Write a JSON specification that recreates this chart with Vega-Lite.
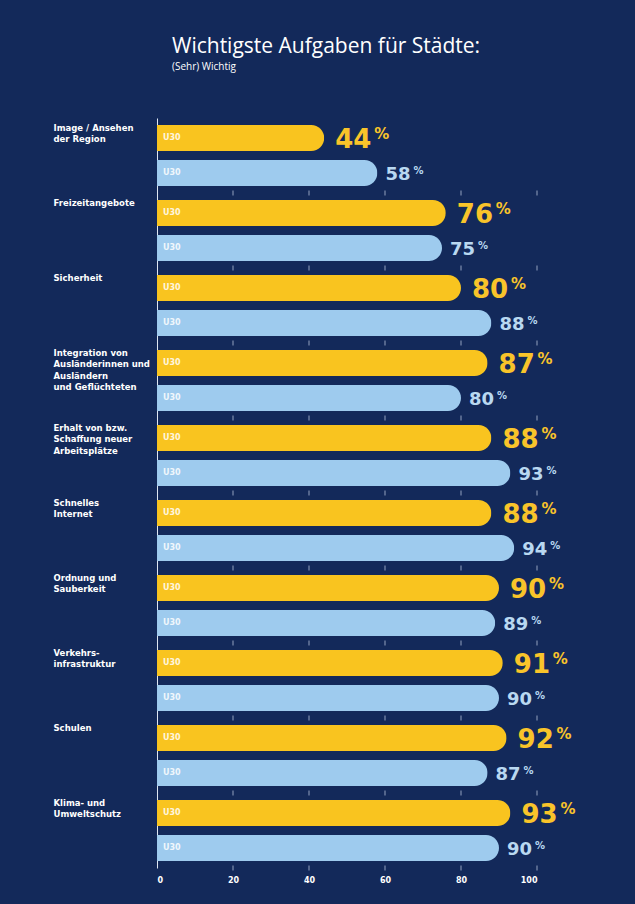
{
  "$schema": "https://vega.github.io/schema/vega-lite/v6.json",
  "autosize": {"type": "none"},
  "width": 380,
  "height": 750,
  "padding": {"left": 157, "top": 118, "right": 98, "bottom": 36},
  "background": "#13295a",
  "title": {
    "text": "Wichtigste Aufgaben für Städte:",
    "subtitle": "(Sehr) Wichtig",
    "anchor": "start",
    "frame": "group",
    "dx": 15,
    "offset": 46,
    "font": "Open Sans",
    "fontSize": 21,
    "fontWeight": "normal",
    "color": "#ffffff",
    "subtitleFont": "Open Sans",
    "subtitleFontSize": 10,
    "subtitleColor": "#ffffff",
    "subtitlePadding": 5
  },
  "config": {"view": {"stroke": null}},
  "datasets": {
    "werte": [
      {"cat": "Image / Ansehen|der Region", "reihe": "A", "label": "U30", "value": 44},
      {"cat": "Image / Ansehen|der Region", "reihe": "B", "label": "U30", "value": 58},
      {"cat": "Freizeitangebote", "reihe": "A", "label": "U30", "value": 76},
      {"cat": "Freizeitangebote", "reihe": "B", "label": "U30", "value": 75},
      {"cat": "Sicherheit", "reihe": "A", "label": "U30", "value": 80},
      {"cat": "Sicherheit", "reihe": "B", "label": "U30", "value": 88},
      {"cat": "Integration von|Ausländerinnen und|Ausländern|und Geflüchteten", "reihe": "A", "label": "U30", "value": 87},
      {"cat": "Integration von|Ausländerinnen und|Ausländern|und Geflüchteten", "reihe": "B", "label": "U30", "value": 80},
      {"cat": "Erhalt von bzw.|Schaffung neuer|Arbeitsplätze", "reihe": "A", "label": "U30", "value": 88},
      {"cat": "Erhalt von bzw.|Schaffung neuer|Arbeitsplätze", "reihe": "B", "label": "U30", "value": 93},
      {"cat": "Schnelles|Internet", "reihe": "A", "label": "U30", "value": 88},
      {"cat": "Schnelles|Internet", "reihe": "B", "label": "U30", "value": 94},
      {"cat": "Ordnung und|Sauberkeit", "reihe": "A", "label": "U30", "value": 90},
      {"cat": "Ordnung und|Sauberkeit", "reihe": "B", "label": "U30", "value": 89},
      {"cat": "Verkehrs-|infrastruktur", "reihe": "A", "label": "U30", "value": 91},
      {"cat": "Verkehrs-|infrastruktur", "reihe": "B", "label": "U30", "value": 90},
      {"cat": "Schulen", "reihe": "A", "label": "U30", "value": 92},
      {"cat": "Schulen", "reihe": "B", "label": "U30", "value": 87},
      {"cat": "Klima- und|Umweltschutz", "reihe": "A", "label": "U30", "value": 93},
      {"cat": "Klima- und|Umweltschutz", "reihe": "B", "label": "U30", "value": 90}
    ],
    "striche": [
      {"cat": "Image / Ansehen|der Region", "x": 20}, {"cat": "Image / Ansehen|der Region", "x": 40}, {"cat": "Image / Ansehen|der Region", "x": 60}, {"cat": "Image / Ansehen|der Region", "x": 80}, {"cat": "Image / Ansehen|der Region", "x": 100},
      {"cat": "Freizeitangebote", "x": 20}, {"cat": "Freizeitangebote", "x": 40}, {"cat": "Freizeitangebote", "x": 60}, {"cat": "Freizeitangebote", "x": 80}, {"cat": "Freizeitangebote", "x": 100},
      {"cat": "Sicherheit", "x": 20}, {"cat": "Sicherheit", "x": 40}, {"cat": "Sicherheit", "x": 60}, {"cat": "Sicherheit", "x": 80}, {"cat": "Sicherheit", "x": 100},
      {"cat": "Integration von|Ausländerinnen und|Ausländern|und Geflüchteten", "x": 20}, {"cat": "Integration von|Ausländerinnen und|Ausländern|und Geflüchteten", "x": 40}, {"cat": "Integration von|Ausländerinnen und|Ausländern|und Geflüchteten", "x": 60}, {"cat": "Integration von|Ausländerinnen und|Ausländern|und Geflüchteten", "x": 80}, {"cat": "Integration von|Ausländerinnen und|Ausländern|und Geflüchteten", "x": 100},
      {"cat": "Erhalt von bzw.|Schaffung neuer|Arbeitsplätze", "x": 20}, {"cat": "Erhalt von bzw.|Schaffung neuer|Arbeitsplätze", "x": 40}, {"cat": "Erhalt von bzw.|Schaffung neuer|Arbeitsplätze", "x": 60}, {"cat": "Erhalt von bzw.|Schaffung neuer|Arbeitsplätze", "x": 80}, {"cat": "Erhalt von bzw.|Schaffung neuer|Arbeitsplätze", "x": 100},
      {"cat": "Schnelles|Internet", "x": 20}, {"cat": "Schnelles|Internet", "x": 40}, {"cat": "Schnelles|Internet", "x": 60}, {"cat": "Schnelles|Internet", "x": 80}, {"cat": "Schnelles|Internet", "x": 100},
      {"cat": "Ordnung und|Sauberkeit", "x": 20}, {"cat": "Ordnung und|Sauberkeit", "x": 40}, {"cat": "Ordnung und|Sauberkeit", "x": 60}, {"cat": "Ordnung und|Sauberkeit", "x": 80}, {"cat": "Ordnung und|Sauberkeit", "x": 100},
      {"cat": "Verkehrs-|infrastruktur", "x": 20}, {"cat": "Verkehrs-|infrastruktur", "x": 40}, {"cat": "Verkehrs-|infrastruktur", "x": 60}, {"cat": "Verkehrs-|infrastruktur", "x": 80}, {"cat": "Verkehrs-|infrastruktur", "x": 100},
      {"cat": "Schulen", "x": 20}, {"cat": "Schulen", "x": 40}, {"cat": "Schulen", "x": 60}, {"cat": "Schulen", "x": 80}, {"cat": "Schulen", "x": 100},
      {"cat": "Klima- und|Umweltschutz", "x": 20}, {"cat": "Klima- und|Umweltschutz", "x": 40}, {"cat": "Klima- und|Umweltschutz", "x": 60}, {"cat": "Klima- und|Umweltschutz", "x": 80}, {"cat": "Klima- und|Umweltschutz", "x": 100}
    ]
  },
  "layer": [
    {
      "data": {"name": "striche"},
      "mark": {"type": "tick", "orient": "vertical", "size": 5, "thickness": 1, "color": "#c9d4e8", "opacity": 0.7, "yOffset": 37.5},
      "encoding": {
        "x": {"field": "x", "type": "quantitative", "scale": {"domain": [0, 100], "nice": false},
          "axis": {"values": [0, 20, 40, 60, 80, 100], "title": null, "domain": false, "ticks": false, "grid": false, "labelColor": "#ffffff", "labelFont": "DejaVu Sans", "labelFontWeight": "bold", "labelFontSize": 8, "labelPadding": 8}},
        "y": {"field": "cat", "type": "nominal",
          "scale": {"domain": ["Image / Ansehen|der Region", "Freizeitangebote", "Sicherheit", "Integration von|Ausländerinnen und|Ausländern|und Geflüchteten", "Erhalt von bzw.|Schaffung neuer|Arbeitsplätze", "Schnelles|Internet", "Ordnung und|Sauberkeit", "Verkehrs-|infrastruktur", "Schulen", "Klima- und|Umweltschutz"], "paddingInner": 0, "paddingOuter": 0},
          "axis": {"title": null, "ticks": false, "domainColor": "#dfe6f2", "domainWidth": 1, "labelExpr": "split(datum.label, '|')", "labelAlign": "left", "labelBaseline": "top", "labelOffset": -32, "labelPadding": 104, "labelColor": "#ffffff", "labelFont": "DejaVu Sans", "labelFontWeight": "bold", "labelFontSize": 8.5, "labelLineHeight": 11.5, "labelLimit": 0}}
      }
    },
    {
      "data": {"name": "werte"},
      "mark": {"type": "bar", "cornerRadiusEnd": 13},
      "encoding": {
        "x": {"field": "value", "type": "quantitative"},
        "y": {"field": "cat", "type": "nominal"},
        "yOffset": {"field": "reihe", "type": "nominal", "scale": {"paddingInner": 0.26, "paddingOuter": 0.2}},
        "color": {"field": "reihe", "type": "nominal", "scale": {"domain": ["A", "B"], "range": ["#f9c41f", "#9ecbee"]}, "legend": null}
      }
    },
    {
      "data": {"name": "werte"},
      "mark": {"type": "text", "align": "left", "baseline": "middle", "dx": 6, "font": "DejaVu Sans", "fontWeight": "bold", "fontSize": 8, "color": "#ffffff", "opacity": 0.85},
      "encoding": {
        "x": {"datum": 0, "type": "quantitative"},
        "y": {"field": "cat", "type": "nominal"},
        "yOffset": {"field": "reihe", "type": "nominal"},
        "text": {"field": "label"}
      }
    },
    {
      "data": {"name": "werte"},
      "transform": [{"filter": "datum.reihe === 'A'"}],
      "mark": {"type": "text", "align": "left", "baseline": "alphabetic", "dx": 11, "dy": 10, "font": "DejaVu Sans", "fontWeight": "bold", "fontSize": 26, "color": "#f9c42a"},
      "encoding": {
        "x": {"field": "value", "type": "quantitative"},
        "y": {"field": "cat", "type": "nominal"},
        "yOffset": {"field": "reihe", "type": "nominal"},
        "text": {"field": "value"}
      }
    },
    {
      "data": {"name": "werte"},
      "transform": [{"filter": "datum.reihe === 'A'"}],
      "mark": {"type": "text", "align": "left", "baseline": "alphabetic", "dx": 50, "dy": 1, "font": "DejaVu Sans", "fontWeight": "bold", "fontSize": 15, "color": "#f9c42a", "text": "%"},
      "encoding": {
        "x": {"field": "value", "type": "quantitative"},
        "y": {"field": "cat", "type": "nominal"},
        "yOffset": {"field": "reihe", "type": "nominal"}
      }
    },
    {
      "data": {"name": "werte"},
      "transform": [{"filter": "datum.reihe === 'B'"}],
      "mark": {"type": "text", "align": "left", "baseline": "alphabetic", "dx": 8, "dy": 7, "font": "DejaVu Sans", "fontWeight": "bold", "fontSize": 18, "color": "#b9d8f1"},
      "encoding": {
        "x": {"field": "value", "type": "quantitative"},
        "y": {"field": "cat", "type": "nominal"},
        "yOffset": {"field": "reihe", "type": "nominal"},
        "text": {"field": "value"}
      }
    },
    {
      "data": {"name": "werte"},
      "transform": [{"filter": "datum.reihe === 'B'"}],
      "mark": {"type": "text", "align": "left", "baseline": "alphabetic", "dx": 36, "dy": 1, "font": "DejaVu Sans", "fontWeight": "bold", "fontSize": 10, "color": "#b9d8f1", "text": "%"},
      "encoding": {
        "x": {"field": "value", "type": "quantitative"},
        "y": {"field": "cat", "type": "nominal"},
        "yOffset": {"field": "reihe", "type": "nominal"}
      }
    }
  ]
}
